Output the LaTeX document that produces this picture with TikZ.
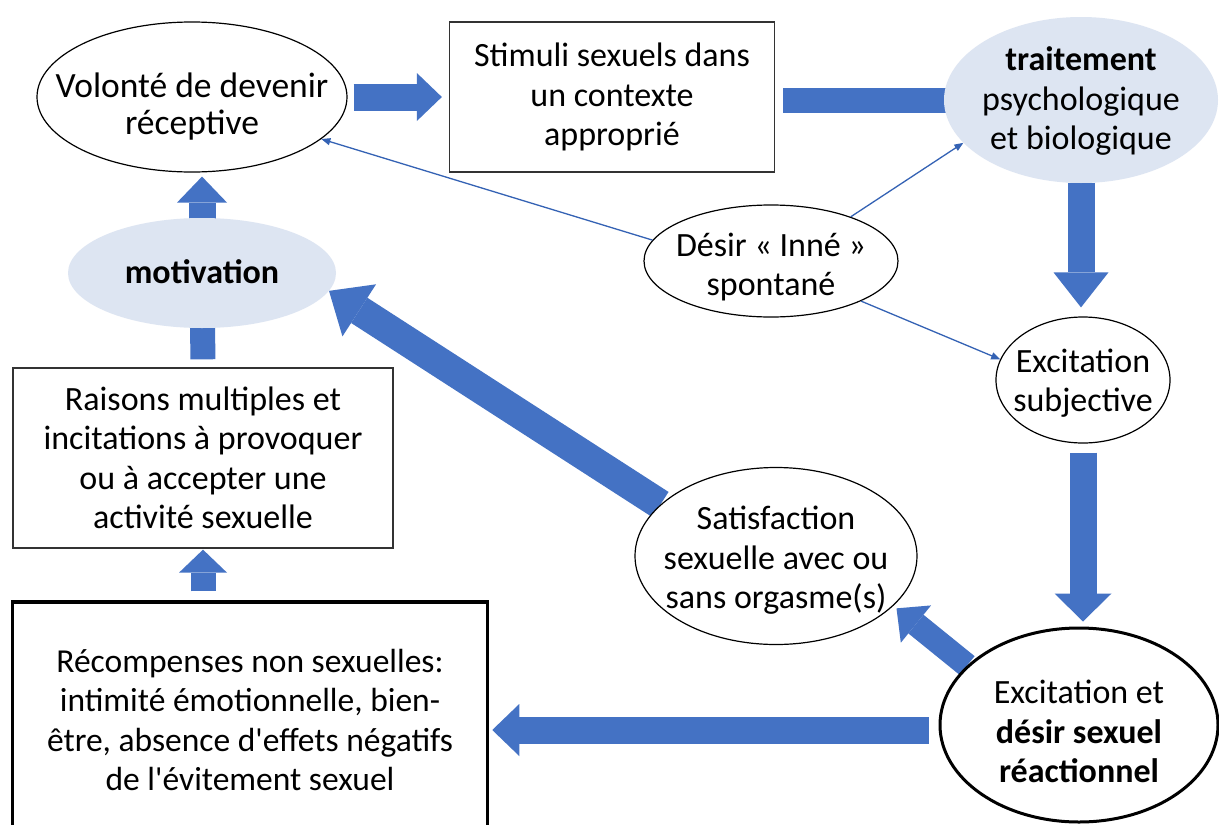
\documentclass[tikz,border=0pt]{standalone}
\usepackage{fontspec}
\setmainfont{Carlito}
\usetikzlibrary{shapes.geometric,arrows.meta,backgrounds}
\definecolor{arrowblue}{RGB}{68,114,196}
\definecolor{pastelblue}{RGB}{221,229,242}
\definecolor{thinblue}{RGB}{52,98,180}
% text of an ellipse: no size of its own, lowered by #1
\newcommand{\etiq}[2][0pt]{\smash{\raisebox{\dimexpr-8.5pt-#1\relax}{\makebox[0pt]{\begin{tabular}{@{}c@{}}#2\end{tabular}}}}}

\begin{document}
\begin{tikzpicture}[x=1pt,y=-1pt,
  every node/.style={font=\fontsize{34}{39.5}\selectfont, align=center, inner sep=0pt},
  bulle/.style={ellipse, draw=black, line width=1.2pt, fill=white},
  nuage/.style={ellipse, fill=pastelblue},
  cadre/.style={rectangle, draw=black!80, line width=1.3pt, fill=white},
  grosse/.style={draw=arrowblue, line width=27pt, -{Triangle[length=27pt, width=52pt, line width=0pt]}},
  longue/.style={grosse, line width=30pt, -{Triangle[length=36pt, width=62pt, line width=0pt]}},
  barre/.style={draw=arrowblue, line width=25pt},
  fine/.style={draw=thinblue, line width=1.3pt, -{Triangle[length=9pt, width=7pt]}}]
\useasboundingbox (0,0) rectangle (1219,825);
\clip (0,0) rectangle (1219,825);

% top row
\node[bulle, minimum width=310pt, minimum height=150pt, font=\fontsize{35.5}{37}\selectfont] (volonte) at (192,97) {\etiq[9pt]{Volonté de devenir\\réceptive}};
\node[cadre, minimum width=325pt, minimum height=150pt] (stimuli) at (612,97) {Stimuli sexuels dans\\un contexte\\approprié};
\node[nuage, minimum width=274pt, minimum height=166pt] (traitement) at (1081,100) {\etiq{\textbf{traitement}\\psychologique\\et biologique}};

% middle
\node[bulle, minimum width=254pt, minimum height=112pt] (desir) at (771,261) {\etiq[5pt]{Désir « Inné »\\spontané}};
\node[nuage, minimum width=268pt, minimum height=110pt] (motivation) at (202,273) {\etiq{\textbf{motivation}}};
\node[bulle, minimum width=174pt, minimum height=126pt] (excsub) at (1083,380) {\etiq[2pt]{Excitation\\subjective}};
\node[cadre, minimum width=380pt, minimum height=180pt] (raisons) at (203,458) {Raisons multiples et\\incitations à provoquer\\ou à accepter une\\activité sexuelle};
\node[bulle, minimum width=282pt, minimum height=177pt] (satis) at (776,556) {\etiq[3pt]{Satisfaction\\sexuelle avec ou\\sans orgasme(s)}};

% bottom row
\node[cadre, draw=black, line width=3.5pt, minimum width=475pt, minimum height=236pt, font=\fontsize{33.5}{39.5}\selectfont] (recomp) at (250,720) {Récompenses non sexuelles:\\intimité émotionnelle, bien-\\être, absence d\textquotesingle effets négatifs\\de l\textquotesingle évitement sexuel};
\node[bulle, line width=3pt, minimum width=278pt, minimum height=194pt] (excdes) at (1079,725) {\etiq[8pt]{Excitation et\\\textbf{désir sexuel}\\\textbf{réactionnel}}};

\begin{pgfonlayer}{background}
\fill[white] (0,0) rectangle (1219,825);
% block arrows
\draw[grosse, shorten <=6pt, shorten >=7pt, -{Triangle[length=25pt, width=48pt, line width=0pt]}] (volonte.east) -- (stimuli.west);
\draw[barre, shorten <=8pt] ([yshift=-3pt]stimuli.east) -- ([yshift=-3pt]stimuli.east -| traitement.center);
\draw[grosse, -{Triangle[length=35pt, width=55pt, line width=0pt]}, shorten >=9pt] (traitement.south) -- (traitement.south |- excsub.north);
\draw[grosse, shorten <=9pt, shorten >=5pt, -{Triangle[length=28pt, width=57pt, line width=0pt]}] (excsub.south) -- (excsub.south |- excdes.north);
\draw[grosse, -{Triangle[length=25pt, width=48pt, line width=0pt]}, line width=24pt, shorten >=4pt] (excdes.152) -- (satis.337);
\draw[grosse, shorten <=10pt, shorten >=3pt] ([yshift=-5pt]excdes.west) -- ([yshift=-5pt]excdes.west -| recomp.east);
\draw[grosse, line width=25pt, -{Triangle[length=23pt, width=48pt, line width=0pt]}, shorten <=9pt, shorten >=1pt] (raisons.south |- recomp.north) -- (raisons.south);
\draw[barre, shorten <=8pt] (raisons.north) -- (motivation.center);
\draw[grosse, -{Triangle[length=26pt, width=50pt, line width=0pt]}, shorten >=4pt] (motivation.center) -- (motivation.center |- volonte.south);
\draw[longue] (satis.156) -- (motivation.352);
\end{pgfonlayer}

% thin arrows
\draw[fine] (desir.170) -- (volonte.342);
\draw[fine] (desir.29) -- (traitement.200);
\draw[fine] (desir.336) -- (excsub.166);
\end{tikzpicture}
\end{document}
